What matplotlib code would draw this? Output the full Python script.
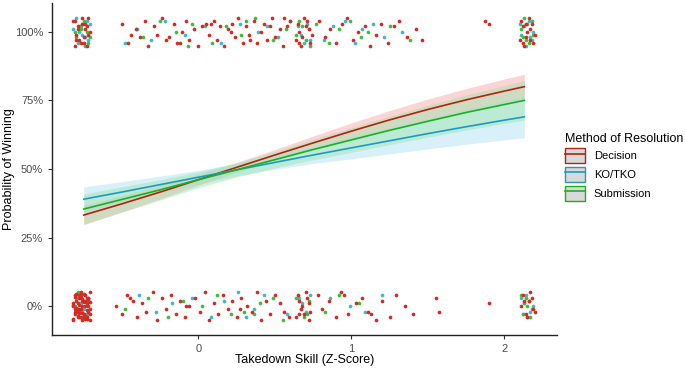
import matplotlib.pyplot as plt
from matplotlib.patches import Patch
from matplotlib.lines import Line2D

plt.rcParams['font.family'] = ['Liberation Sans', 'DejaVu Sans']

methods = ['Decision', 'KO/TKO', 'Submission']

# fitted curves
skill = [-0.75, -0.5, -0.25, 0, 0.25, 0.5, 0.75, 1.0, 1.25, 1.5, 1.75, 2.0, 2.13]
dec_fit = [0.332, 0.373, 0.416, 0.461, 0.506, 0.551, 0.595, 0.638, 0.679, 0.717, 0.752, 0.784, 0.800]
dec_lo = [0.297, 0.343, 0.391, 0.441, 0.488, 0.531, 0.570, 0.608, 0.645, 0.679, 0.711, 0.740, 0.755]
dec_hi = [0.367, 0.403, 0.441, 0.481, 0.524, 0.571, 0.620, 0.668, 0.713, 0.755, 0.793, 0.828, 0.845]
ko_fit = [0.390, 0.416, 0.443, 0.470, 0.497, 0.524, 0.551, 0.577, 0.603, 0.629, 0.654, 0.678, 0.690]
ko_lo = [0.345, 0.378, 0.412, 0.445, 0.475, 0.499, 0.520, 0.537, 0.555, 0.573, 0.590, 0.606, 0.614]
ko_hi = [0.435, 0.454, 0.474, 0.495, 0.519, 0.549, 0.582, 0.617, 0.651, 0.685, 0.718, 0.750, 0.766]
sub_fit = [0.354, 0.389, 0.424, 0.461, 0.497, 0.534, 0.571, 0.606, 0.641, 0.674, 0.706, 0.735, 0.750]
sub_lo = [0.299, 0.343, 0.387, 0.432, 0.471, 0.504, 0.534, 0.561, 0.589, 0.616, 0.642, 0.666, 0.678]
sub_hi = [0.409, 0.435, 0.461, 0.490, 0.523, 0.564, 0.608, 0.651, 0.693, 0.732, 0.770, 0.804, 0.822]

# raw outcomes (won = 100%, lost = 0%), x position and vertical jitter
won_dec_x = [-0.81, -0.78, -0.74, -0.72, -0.80, -0.76, -0.73, -0.79, -0.75, -0.71,
             -0.82, -0.77, -0.74, -0.80, -0.72, -0.76, -0.79, -0.73, -0.81, -0.75,
             0.65, 0.68, 0.71, 0.73, 0.66, 0.70, 0.64, 0.72, 0.67, 0.69, 0.74, 0.66,
             2.11, 2.14, 2.17, 2.19, 2.12, 2.16, 2.10, 2.18, 2.13, 2.15, 2.20, 2.12, 2.17, 2.14,
             -0.50, -0.46, -0.41, -0.38, -0.35, -0.33, -0.29, -0.27, -0.24, -0.21,
             -0.19, -0.16, -0.14, -0.11, -0.08, -0.06, -0.03, 0.00, 0.02, 0.05,
             0.07, 0.10, 0.12, 0.14, 0.17, 0.19, 0.22, 0.24, 0.26, 0.29,
             0.31, 0.33, 0.36, 0.38, 0.41, 0.43, 0.45, 0.48, 0.50, 0.53,
             0.55, 0.58, 0.60, -0.44, -0.12, 0.08, 0.21, 0.34, 0.47, 0.56,
             0.79, 0.83, 0.86, 0.90, 0.94, 0.97, 1.01, 1.04, 1.09, 1.12,
             1.16, 1.19, 1.24, 1.28, 1.31, 1.36, 1.42, 1.46, 1.87, 1.90]
won_dec_dy = [0.04, -0.03, 0.01, 0.05, -0.01, 0.03, -0.05, 0.02, -0.02, 0.00,
              0.04, -0.04, 0.03, -0.03, -0.01, 0.05, 0.01, 0.02, -0.05, -0.04,
              0.03, -0.02, 0.04, -0.04, 0.00, 0.02, -0.03, 0.01, -0.05, 0.05, -0.01, -0.04,
              0.04, -0.02, 0.01, -0.04, 0.02, 0.05, -0.03, 0.03, -0.05, 0.00, -0.01, -0.04, -0.03, 0.03,
              0.03, -0.04, 0.01, -0.02, 0.04, -0.05, 0.02, -0.01, 0.05, -0.03,
              -0.02, 0.03, -0.04, 0.00, 0.04, -0.03, 0.01, -0.05, 0.02, 0.03,
              -0.01, 0.04, -0.03, 0.02, -0.05, 0.01, 0.03, -0.02, 0.05, -0.04,
              0.02, -0.01, 0.04, -0.04, 0.00, 0.03, -0.03, 0.05, -0.02, 0.01,
              -0.05, 0.02, 0.04, -0.01, -0.04, 0.03, 0.00, -0.03, 0.02, 0.05,
              0.04, -0.02, 0.01, -0.04, 0.03, 0.05, -0.03, 0.00, 0.02, -0.05,
              -0.01, 0.03, -0.04, 0.02, 0.04, -0.02, 0.01, -0.03, 0.04, 0.03]
won_ko_x = [-0.78, -0.71, -0.77, -0.74, -0.80, -0.72, -0.76, -0.82, -0.73, -0.79,
            0.67, 0.71, 0.65, 0.73, 0.69,
            2.13, 2.18, 2.11, 2.16, 2.19, 2.14, 2.10, 2.17,
            -0.40, -0.31, -0.22, -0.09, 0.04, 0.15, 0.27, 0.39, 0.52, 0.60,
            0.82, 0.88, 0.96, 1.02, 1.07, 1.14, 1.21, 1.33, -0.48, 0.45]
won_ko_dy = [0.00, 0.03, 0.02, -0.02, 0.05, -0.03, -0.01, 0.01, 0.04, -0.04,
             -0.01, 0.03, 0.02, -0.03, -0.04,
             0.02, -0.03, -0.01, 0.04, 0.00, -0.05, 0.03, -0.02,
             0.01, -0.03, 0.04, -0.01, 0.02, -0.04, 0.03, 0.00, -0.02, 0.04,
             -0.03, 0.02, 0.04, -0.04, 0.01, 0.03, -0.02, 0.00, -0.04, 0.02]
won_sub_x = [-0.75, -0.78, -0.71, -0.81, -0.74, -0.77, -0.72, -0.80, -0.76, -0.73,
             0.66, 0.70, 0.72, 0.64, 0.68, 0.73,
             2.12, 2.15, 2.18, 2.11, 2.16, 2.19, 2.13, 2.14,
             -0.36, -0.25, -0.15, -0.04, 0.09, 0.18, 0.28, 0.37, 0.49, 0.57,
             0.77, 0.85, 0.92, 0.99, 1.06, 1.11, 1.25, 1.38, -0.07, 0.31]
won_sub_dy = [0.04, 0.02, -0.02, 0.00, -0.05, 0.01, -0.04, -0.02, 0.03, 0.00,
              0.04, -0.03, 0.01, -0.01, 0.02, -0.05,
              -0.02, 0.03, 0.04, 0.01, -0.04, -0.01, 0.05, -0.03,
              -0.02, 0.04, 0.00, 0.03, -0.04, 0.02, -0.01, 0.05, -0.03, 0.01,
              0.03, -0.04, 0.01, 0.04, -0.02, 0.00, 0.02, -0.03, -0.05, 0.04]

lost_dec_x = [-0.82, -0.79, -0.76, -0.73, -0.71, -0.81, -0.78, -0.75, -0.72, -0.80,
              -0.77, -0.74, -0.71, -0.82, -0.79, -0.76, -0.73, -0.80, -0.78, -0.75,
              -0.72, -0.81, -0.77, -0.74, -0.71, -0.82, -0.79, -0.76, -0.73, -0.80,
              -0.78, -0.75, -0.72, -0.81, -0.77, -0.74, -0.71, -0.80, -0.79, -0.76,
              -0.73, -0.82, -0.78, -0.75, -0.72, -0.81, -0.77, -0.74, -0.71, -0.80,
              -0.79, -0.76, -0.73, -0.82, -0.78, -0.75, -0.72, -0.81, -0.77, -0.74,
              0.65, 0.69, 0.72, 0.67, 0.71, 0.64, 0.70, 0.73, 0.66, 0.68, 0.72, 0.66,
              2.12, 2.16, 2.19, 2.14, 2.11, 2.18, 2.15, 2.13, 2.17, 2.20,
              -0.54, -0.50, -0.47, -0.43, -0.40, -0.37, -0.34, -0.30, -0.27, -0.24,
              -0.21, -0.18, -0.15, -0.12, -0.09, -0.06, -0.02, 0.01, 0.04, 0.07,
              0.10, 0.13, 0.16, 0.19, 0.22, 0.25, 0.28, 0.32, 0.35, 0.38,
              0.41, 0.44, 0.47, 0.50, 0.53, 0.56, 0.59, -0.45, -0.08, 0.27,
              0.78, 0.81, 0.85, 0.90, 0.93, 0.98, 1.03, 1.07, 1.11, 1.16,
              1.20, 1.25, 1.29, 1.35, 1.40, 1.55, 1.57, 1.90, 0.95, 1.13]
lost_dec_dy = [-0.05, -0.04, -0.05, -0.04, -0.05, -0.03, -0.02, -0.03, -0.02, -0.01,
               -0.01, 0.00, -0.01, 0.00, 0.01, 0.00, 0.01, 0.02, 0.03, 0.02,
               0.03, 0.04, 0.05, 0.04, 0.05, -0.045, -0.035, -0.025, -0.015, -0.005,
               0.005, 0.015, 0.025, 0.035, 0.045, -0.045, -0.03, -0.02, -0.01, 0.02,
               0.03, 0.01, 0.04, -0.04, 0.00, -0.02, 0.035, -0.035, 0.015, 0.045,
               -0.015, 0.025, -0.045, 0.005, -0.025, 0.045, 0.03, -0.01, -0.04, 0.02,
               0.04, -0.03, 0.01, -0.01, 0.03, -0.04, 0.05, -0.02, 0.02, 0.00, -0.05, -0.03,
               0.04, 0.02, -0.01, -0.03, 0.00, 0.03, -0.04, 0.02, 0.05, -0.02,
               0.00, -0.03, 0.04, 0.02, -0.04, 0.01, -0.02, 0.05, -0.05, 0.03,
               -0.01, 0.04, -0.03, 0.02, -0.04, 0.00, 0.03, -0.02, 0.05, -0.05,
               0.01, -0.03, 0.04, -0.01, 0.02, -0.04, 0.03, 0.00, -0.02, 0.05,
               -0.05, 0.02, -0.03, 0.04, 0.01, -0.02, -0.04, 0.03, 0.00, -0.01,
               0.04, -0.01, 0.02, -0.04, 0.05, -0.03, 0.01, 0.03, -0.02, -0.05,
               0.02, -0.04, 0.04, 0.00, -0.03, 0.03, -0.02, 0.01, 0.04, -0.03]
lost_ko_x = [-0.77, -0.73, -0.80, -0.75,
             0.66, 0.70, 0.68, 0.73,
             2.13, 2.17, 2.11, 2.15, 2.19, 2.14, 2.12, 2.16,
             -0.39, -0.28, -0.17, -0.04, 0.08, 0.17, 0.26, 0.36, 0.43, 0.58,
             0.86, 0.99, 1.09, 1.20, 0.31]
lost_ko_dy = [0.01, -0.03, 0.04, -0.01,
              0.03, -0.02, 0.01, 0.04,
              0.01, -0.02, 0.03, -0.04, 0.00, 0.04, -0.03, 0.02,
              0.04, -0.02, 0.01, 0.03, -0.04, 0.02, 0.05, -0.01, 0.04, -0.03,
              0.03, 0.00, -0.02, 0.04, -0.04]
lost_sub_x = [-0.80, -0.76, -0.73, -0.78, -0.74, -0.81, -0.75, -0.72, -0.77, -0.79,
              0.67, 0.72, 0.64, 0.69, 0.71,
              2.14, 2.18, 2.12, 2.16, 2.11, 2.17, 2.15, 2.13,
              -0.48, -0.33, -0.20, -0.10, 0.02, 0.12, 0.21, 0.30, 0.40, 0.49,
              0.55, 0.83, 0.92, 1.05, 0.36]
lost_sub_dy = [0.03, -0.02, 0.01, -0.04, 0.04, 0.00, -0.03, 0.02, -0.01, 0.05,
               -0.01, 0.02, 0.03, -0.04, -0.03,
               0.03, -0.01, -0.03, 0.02, 0.04, -0.04, 0.00, 0.01,
               -0.01, 0.03, -0.04, 0.02, 0.00, 0.04, -0.03, -0.02, 0.01, 0.03,
               -0.05, -0.02, 0.04, 0.01, -0.03]

point_cols = ['#D42A22', '#3DB8CC', '#3CBE3C']
line_cols = ['#B2220F', '#1B9BC4', '#1EAF1E']
fill_cols = ['#F5A3A0', '#A8DFF5', '#9BE4A8']

fig = plt.figure(figsize=(6.85, 3.72), dpi=100)
ax = fig.add_axes([0.076, 0.0995, 0.737, 0.8925])

points = [(won_dec_x, won_dec_dy, lost_dec_x, lost_dec_dy),
          (won_ko_x, won_ko_dy, lost_ko_x, lost_ko_dy),
          (won_sub_x, won_sub_dy, lost_sub_x, lost_sub_dy)]
# decision dots go on top, like the reference
for (wx, wdy, lx, ldy), c, z in zip(points, point_cols, [2.2, 2.0, 2.1]):
    ax.scatter(wx, [1 + d for d in wdy[:len(wx)]], s=7, color=c, linewidths=0, zorder=z)
    ax.scatter(lx, [d for d in ldy[:len(lx)]], s=7, color=c, linewidths=0, zorder=z)

fits = [(dec_fit, dec_lo, dec_hi), (ko_fit, ko_lo, ko_hi), (sub_fit, sub_lo, sub_hi)]
for (f, lo, hi), fc in zip(fits, fill_cols):
    ax.fill_between(skill, lo, hi, color=fc, alpha=0.45, linewidth=0, zorder=3)
for (f, lo, hi), lc in zip(fits, line_cols):
    ax.plot(skill, f, color=lc, linewidth=1.2, zorder=4)

ax.set_xlim(-0.957, 2.343)
ax.set_ylim(-0.105, 1.105)
ax.set_xticks([0, 1, 2])
ax.set_yticks([0, 0.25, 0.5, 0.75, 1.0])
ax.set_yticklabels(['0%', '25%', '50%', '75%', '100%'])
ax.tick_params(labelsize=8, colors='#333333', length=3, width=0.8)
ax.tick_params(axis='x', labelcolor='#4D4D4D')
ax.tick_params(axis='y', labelcolor='#4D4D4D')
for s in ['top', 'right']:
    ax.spines[s].set_visible(False)
for s in ['left', 'bottom']:
    ax.spines[s].set_linewidth(1.0)
    ax.spines[s].set_color('#222222')
ax.set_xlabel('Takedown Skill (Z-Score)', fontsize=9)
ax.set_ylabel('Probability of Winning', fontsize=9)
ax.xaxis.set_label_coords(0.5, -0.058)
ax.yaxis.set_label_coords(-0.073, 0.5)

handles = [(Patch(facecolor='#D9D9D9', edgecolor=c, linewidth=1.0),
            Line2D([], [], color=c, linewidth=1.2)) for c in line_cols]
leg = fig.legend(handles, methods, loc='upper left', bbox_to_anchor=(0.818, 0.655),
                 frameon=False, fontsize=8, title='Method of Resolution',
                 title_fontsize=9, handlelength=1.8, handleheight=1.75,
                 labelspacing=0.3, handletextpad=0.8, borderaxespad=0)
leg._legend_box.align = 'left'

fig.savefig('out.png', dpi=100)
